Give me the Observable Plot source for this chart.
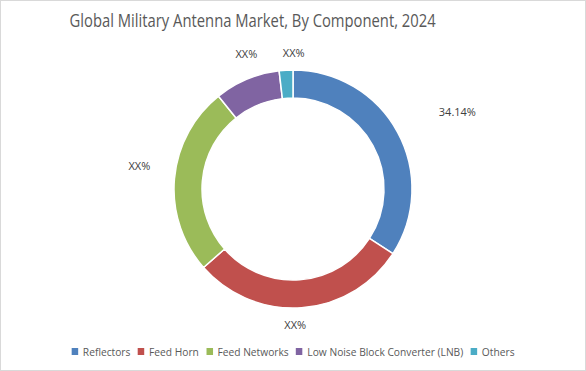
<!DOCTYPE html>
<html>
<head>
<meta charset="utf-8">
<script src="https://cdn.jsdelivr.net/npm/d3@7"></script>
<script src="https://cdn.jsdelivr.net/npm/@observablehq/plot@0.6"></script>
<style>
  html, body { margin: 0; padding: 0; background: #fff; }
  #frame { width: 584px; height: 369px; border: 1px solid #d9d9d9; position: relative; overflow: hidden; font-family: "Open Sans", sans-serif; }
  #title { height: 38px; line-height: 38px; text-align: center; font-size: 17.5px; color: #595959; padding-right: 80px; }
  #title span { display: inline-block; transform: scaleX(0.845); transform-origin: center; white-space: nowrap; }
  #chart svg { display: block; }
  #legend { position: absolute; left: 0; right: 0; top: 342px; text-align: center; font-size: 11px; color: #595959; white-space: nowrap; }
  #legend .inner { display: inline-block; transform: scaleX(0.93); transform-origin: center; }
  .item { display: inline-flex; align-items: center; margin: 0 4px; }
  .sw { width: 7px; height: 7px; margin-right: 5px; display: inline-block; }
</style>
</head>
<body>
<div id="frame">
  <div id="title"><span>Global Military Antenna Market, By Component, 2024</span></div>
  <div id="chart"></div>
  <div id="legend"><div class="inner"></div></div>
</div>
<script>
const categories = ["Reflectors", "Feed Horn", "Feed Networks", "Low Noise Block Converter (LNB)", "Others"];
const shares = [34.14, 29.4, 25.7, 8.9, 1.86];
const labels = ["34.14%", "XX%", "XX%", "XX%", "XX%"];
const colors = ["#4F81BD", "#C0504D", "#9BBB59", "#8064A2", "#4BACC6"];

const data = categories.map((c, i) => ({category: c, value: shares[i], label: labels[i]}));

const W = 584, H = 300;
const outerR = 119, innerR = 91;

const color = Plot.scale({color: {type: "ordinal", domain: categories, range: colors}});

const pie = d3.pie().sort(null).value(d => d.value);
const arcs = pie(data);

// label positions computed from slice mid-angles (best-fit style, outside the ring)
const labelData = arcs.map(a => {
  const mid = (a.startAngle + a.endAngle) / 2 + 0.06;
  const r = 136 + 35 * Math.max(0, Math.sin(2 * mid)) + 20 * Math.abs(Math.sin(mid));
  return {x: Math.sin(mid) * r, y: -Math.cos(mid) * r, label: a.data.label};
});

const arcGen = d3.arc().innerRadius(innerR).outerRadius(outerR);

function donut(index, scales) {
  const cx = scales.x(0), cy = scales.y(0);
  const g = d3.create("svg:g").attr("transform", `translate(${cx},${cy})`);
  g.selectAll("path").data(arcs).join("path")
    .attr("d", arcGen)
    .attr("fill", d => color.apply(d.data.category))
    .attr("stroke", "#fff")
    .attr("stroke-width", 1.5)
    .attr("stroke-linejoin", "round");
  return g.node();
}

const plot = Plot.plot({
  width: W,
  height: H,
  margin: 0,
  x: {domain: [-W / 2, W / 2], axis: null},
  y: {domain: [-H / 2, H / 2], axis: null, reverse: true},
  marks: [
    donut,
    Plot.text(labelData, {x: "x", y: "y", text: "label", fill: "#404040", fontSize: 11, fontFamily: "Open Sans, sans-serif"})
  ]
});
document.getElementById("chart").appendChild(plot);

const legend = document.querySelector("#legend .inner");
categories.forEach(c => {
  const item = document.createElement("span");
  item.className = "item";
  const sw = document.createElement("span");
  sw.className = "sw";
  sw.style.background = color.apply(c);
  item.appendChild(sw);
  item.appendChild(document.createTextNode(c));
  legend.appendChild(item);
});
</script>
</body>
</html>
